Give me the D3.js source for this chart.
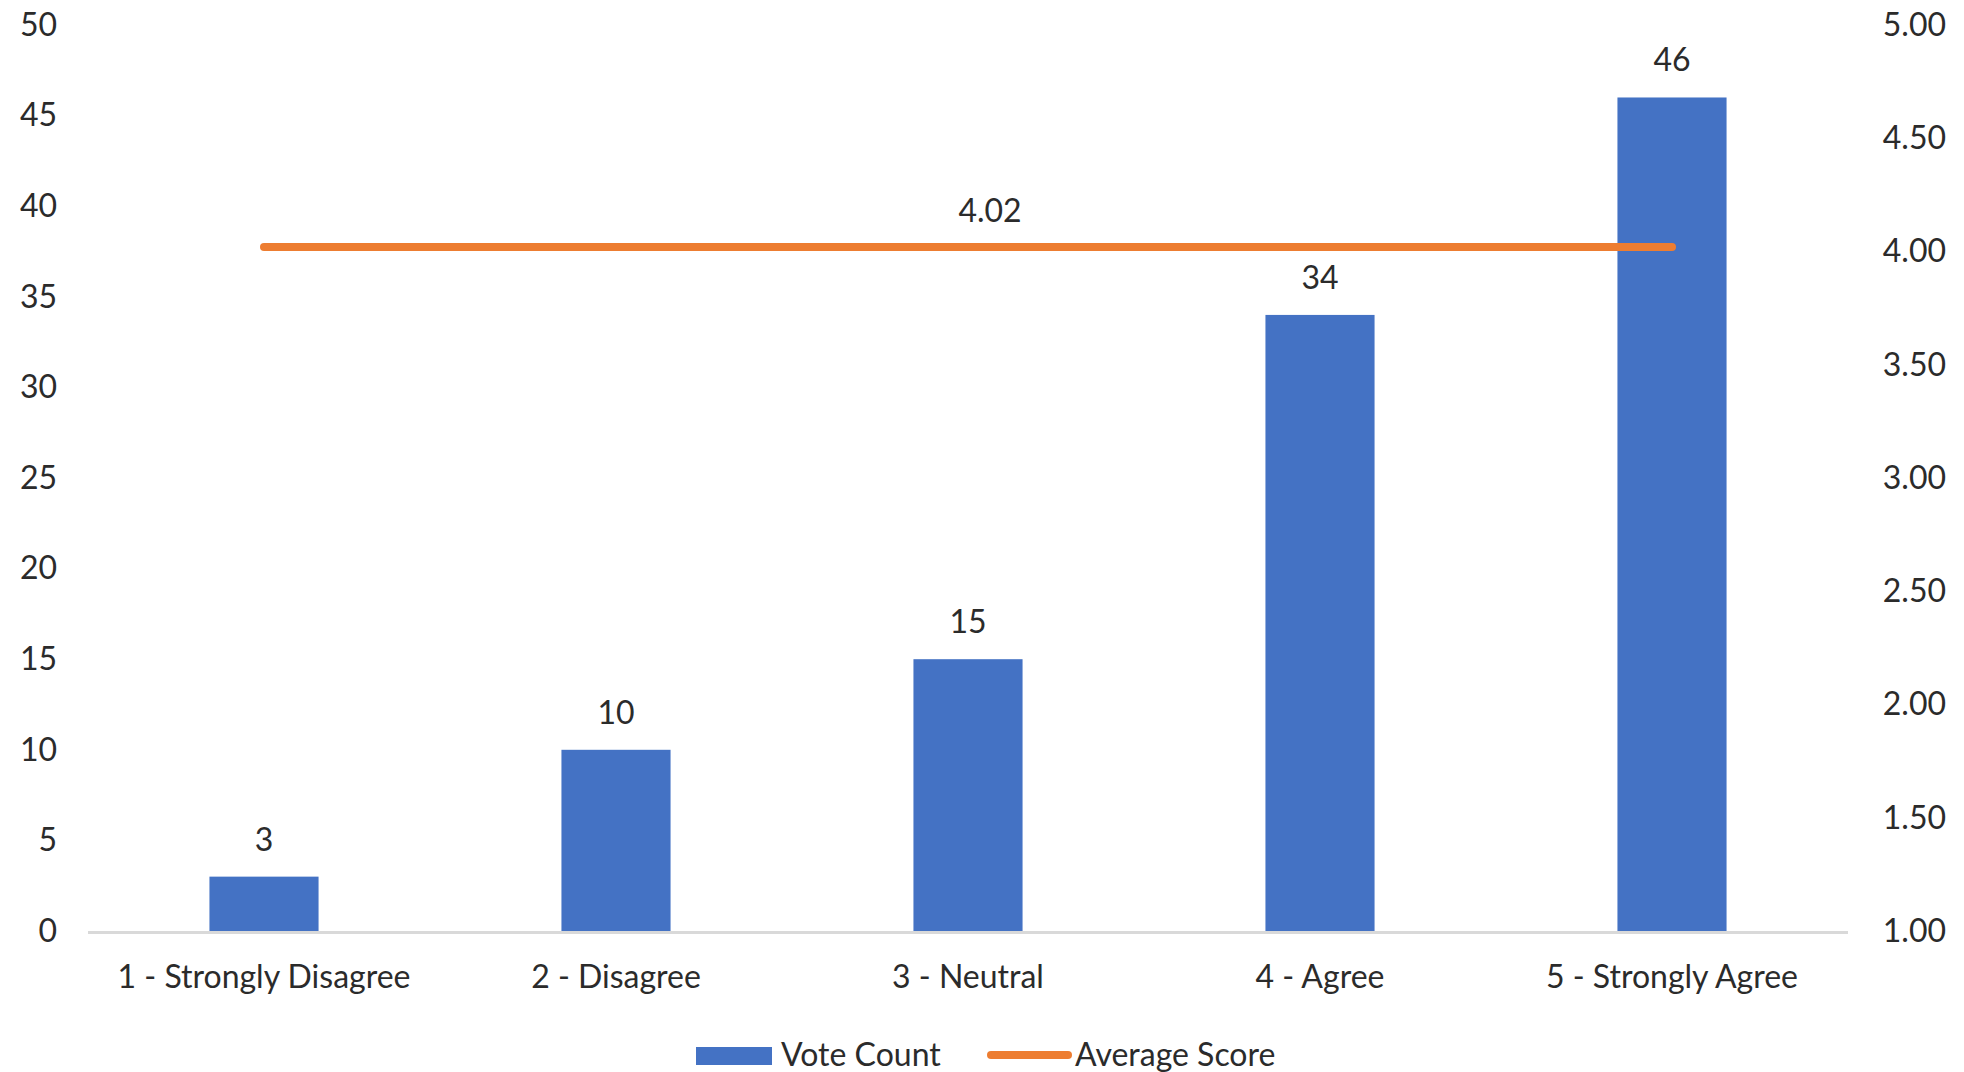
<!DOCTYPE html>
<html>
<head>
<meta charset="utf-8">
<script src="https://cdn.jsdelivr.net/npm/d3@7"></script>
<style>
  body { margin: 0; background: #fff; }
  text { font-family: Lato, "Open Sans", sans-serif; fill: #2b2b2b; }
</style>
</head>
<body>
<div id="chart"></div>
<script>
// chart values
var categories = ["1 - Strongly Disagree", "2 - Disagree", "3 - Neutral", "4 - Agree", "5 - Strongly Agree"];
var voteCounts = [3, 10, 15, 34, 46];
var averageScore = 4.02;
var leftTicks = [0, 5, 10, 15, 20, 25, 30, 35, 40, 45, 50];
var rightTicks = [1.0, 1.5, 2.0, 2.5, 3.0, 3.5, 4.0, 4.5, 5.0];
var seriesNames = ["Vote Count", "Average Score"];

var width = 1964, height = 1072;
var plotLeft = 88, plotRight = 1848, plotTop = 25, plotBottom = 931;
var fontSize = 32;
var textColor = "#2b2b2b";

var svg = d3.select("#chart").append("svg")
    .attr("width", width)
    .attr("height", height);

var x = d3.scaleBand()
    .domain(categories)
    .range([plotLeft, plotRight])
    .paddingInner(0.69)
    .paddingOuter(0.345);

var y = d3.scaleLinear().domain([0, 50]).range([plotBottom, plotTop]);
var y2 = d3.scaleLinear().domain([1, 5]).range([plotBottom, plotTop]);

// left axis labels
var yAxis = svg.append("g")
    .attr("transform", "translate(" + 57 + ",0)")
    .call(d3.axisLeft(y).tickValues(leftTicks).tickSize(0).tickPadding(0));
yAxis.select(".domain").remove();

// right axis labels
var yAxis2 = svg.append("g")
    .attr("transform", "translate(" + 1946 + ",0)")
    .call(d3.axisLeft(y2).tickValues(rightTicks).tickFormat(d3.format(".2f")).tickSize(0).tickPadding(0));
yAxis2.select(".domain").remove();

svg.selectAll(".tick text")
    .attr("fill", textColor)
    .style("font-size", fontSize + "px")
    .style("font-family", "Lato, 'Open Sans', sans-serif");

// bars
svg.append("g").selectAll("rect")
    .data(voteCounts)
    .enter().append("rect")
        .attr("x", function(d, i) { return x(categories[i]); })
        .attr("y", function(d) { return y(d); })
        .attr("width", x.bandwidth())
        .attr("height", function(d) { return y(0) - y(d); })
        .attr("fill", "#4472C4");

// baseline
svg.append("line")
    .attr("x1", plotLeft).attr("x2", plotRight)
    .attr("y1", plotBottom + 1.5).attr("y2", plotBottom + 1.5)
    .attr("stroke", "#d9d9d9")
    .attr("stroke-width", 3);

// bar value labels
svg.append("g").selectAll("text")
    .data(voteCounts)
    .enter().append("text")
        .attr("x", function(d, i) { return x(categories[i]) + x.bandwidth() / 2; })
        .attr("y", function(d) { return y(d) - 26; })
        .attr("text-anchor", "middle")
        .style("font-size", fontSize + "px")
        .text(function(d) { return d; });

// category labels
var xAxis = svg.append("g")
    .attr("transform", "translate(0," + 956 + ")")
    .call(d3.axisBottom(x).tickSize(0).tickPadding(0));
xAxis.select(".domain").remove();
xAxis.selectAll("text")
    .attr("fill", textColor)
    .attr("dy", "1em")
    .style("font-size", fontSize + "px")
    .style("font-family", "Lato, 'Open Sans', sans-serif");

// average line
var lineData = categories.map(function(c) { return {cat: c, v: averageScore}; });
var line = d3.line()
    .x(function(d) { return x(d.cat) + x.bandwidth() / 2; })
    .y(function(d) { return y2(d.v); });

svg.append("path")
    .datum(lineData)
    .attr("d", line)
    .attr("fill", "none")
    .attr("stroke", "#ED7D31")
    .attr("stroke-width", 8)
    .attr("stroke-linecap", "round");

svg.append("text")
    .attr("x", x(categories[2]) + x.bandwidth() / 2 + 22)
    .attr("y", y2(averageScore) - 25)
    .attr("text-anchor", "middle")
    .style("font-size", fontSize + "px")
    .text(d3.format(".2f")(averageScore));

// legend
var legend = svg.append("g");
legend.append("rect")
    .attr("x", 696).attr("y", 1047)
    .attr("width", 76).attr("height", 18)
    .attr("fill", "#4472C4");
legend.append("text")
    .attr("x", 781).attr("y", 1066)
    .style("font-size", fontSize + "px")
    .text(seriesNames[0]);
legend.append("line")
    .attr("x1", 991).attr("x2", 1068)
    .attr("y1", 1055).attr("y2", 1055)
    .attr("stroke", "#ED7D31")
    .attr("stroke-width", 8)
    .attr("stroke-linecap", "round");
legend.append("text")
    .attr("x", 1075).attr("y", 1066)
    .style("font-size", fontSize + "px")
    .text(seriesNames[1]);
</script>
</body>
</html>
